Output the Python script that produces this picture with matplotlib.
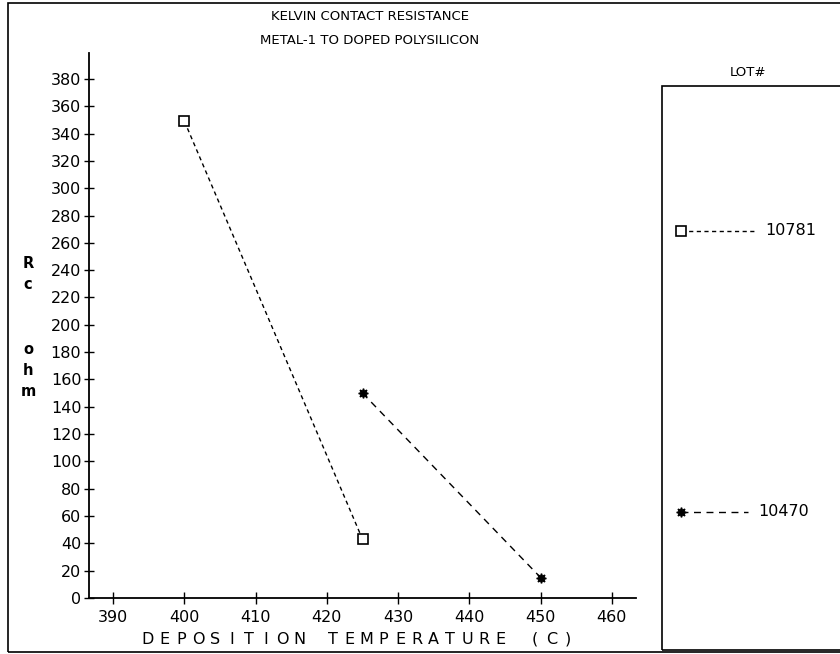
"""Kelvin contact resistance vs deposition temperature, plotter-style replica."""
import matplotlib

matplotlib.use("Agg")
import matplotlib.pyplot as plt
from matplotlib.patches import Rectangle

# data
LOTS = ["10781", "10470"]
TEMP_10781 = [400, 425]
RC_10781 = [349, 43]
TEMP_10470 = [425, 450]
RC_10470 = [150, 15]

X_TICKS = list(range(390, 461, 10))
Y_TICKS = list(range(0, 381, 20))

TITLE_LINES = ["KELVIN CONTACT RESISTANCE", "METAL-1 TO DOPED POLYSILICON"]
X_LABEL = "DEPOSITION TEMPERATURE (C)"
Y_LABEL_CHARS = ["R", "c", "", "", "o", "h", "m"]

W, H = 840, 654
plt.rcParams.update({"font.family": "DejaVu Sans"})
fig = plt.figure(figsize=(W / 100, H / 100), dpi=100, facecolor="white")

# outer frame (right side runs off the page, like the scan)
fig.patches.append(Rectangle((8 / W, 2 / H), 1.0, (651 - 2) / H, transform=fig.transFigure,
                             fill=False, edgecolor="black", linewidth=1.2))

ax = fig.add_axes([89 / W, (H - 598) / H, (636 - 89) / W, (598 - 53) / H])
ax.set_xlim(386.6, 463.4)
ax.set_ylim(0, 399)

sq_style = dict(color="black", linewidth=1.0, dashes=(3, 2.5), marker="s", markersize=7,
                markerfacecolor="white", markeredgecolor="black", markeredgewidth=1.2)
st_style = dict(color="black", linewidth=1.0, dashes=(5, 4), marker=(8, 1, 0), markersize=7,
                markerfacecolor="black", markeredgecolor="black")

ax.plot(TEMP_10781, RC_10781, **sq_style)
ax.plot(TEMP_10470, RC_10470, **st_style)

ax.set_xticks(X_TICKS)
ax.set_yticks(Y_TICKS)
ax.tick_params(direction="inout", width=1.0, labelsize=11.5)
ax.tick_params(axis="y", length=7, pad=2)
ax.tick_params(axis="x", length=9, pad=4)
for s in ["top", "right"]:
    ax.spines[s].set_visible(False)
for s in ["left", "bottom"]:
    ax.spines[s].set_linewidth(1.3)

# letter-spaced x label, one character at a time
for i, ch in enumerate(X_LABEL):
    fig.text((148 + i * 16.8) / W, 1 - 639 / H, ch, fontsize=11.5,
             ha="center", va="center")

for i, ch in enumerate(Y_LABEL_CHARS):
    fig.text(28 / W, 1 - (263 + i * 21.5) / H, ch, fontsize=10.5, fontweight="bold",
             ha="center", va="center")

fig.text(370 / W, 1 - 17 / H, TITLE_LINES[0], fontsize=9.5, ha="center", va="center")
fig.text(370 / W, 1 - 40 / H, TITLE_LINES[1], fontsize=9.5, ha="center", va="center")

# legend panel
lg = fig.add_axes([662 / W, (H - 650) / H, 180 / W, (650 - 86) / H])
lg.set_xlim(0, 1)
lg.set_ylim(0, 1)
lg.axis("off")
lg.add_patch(Rectangle((0, 0), 1.2, 1, fill=False, edgecolor="black", linewidth=1.2,
                       transform=lg.transAxes, clip_on=False))
fig.text(748 / W, 1 - 72 / H, "LOT#", fontsize=9.5, ha="center", va="center")

entries = [(LOTS[0], sq_style, 0.743, 0.52), (LOTS[1], st_style, 0.245, 0.48)]
for lot, style, yy, x_end in entries:
    lg.plot([0.105, x_end], [yy, yy], markevery=[0], **style)
    lg.text(x_end + 0.055, yy, lot, fontsize=11.5, ha="left", va="center")

fig.savefig("out.png", dpi=100, facecolor="white")
